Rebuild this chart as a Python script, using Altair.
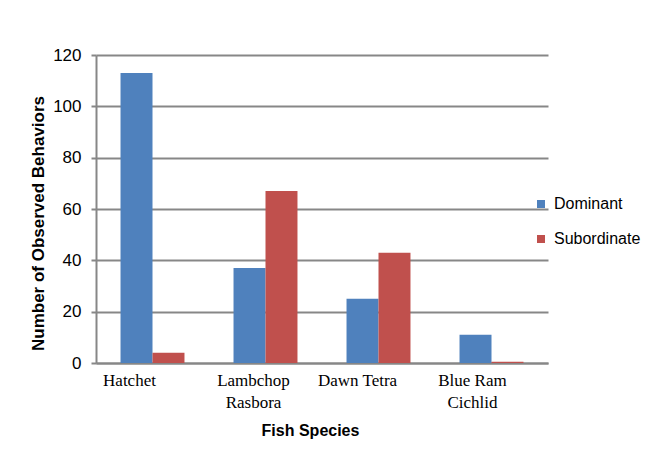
import altair as alt
import pandas as pd

species = ["Hatchet", "Lambchop Rasbora", "Dawn Tetra", "Blue Ram Cichlid"]
label_lines = [["Hatchet"], ["Lambchop", "Rasbora"], ["Dawn Tetra"], ["Blue Ram", "Cichlid"]]
label_shift = [-23, -12, -21, -19]
series = ["Dominant", "Subordinate"]
dominant = [113, 37, 25, 11]
subordinate = [4, 67, 43, 0.5]
colors = ["#4F81BD", "#C0504D"]
y_ticks = [0, 20, 40, 60, 80, 100, 120]

rows = []
for i, s in enumerate(species):
    rows.append({"species": s, "group": "Dominant", "count": dominant[i]})
    rows.append({"species": s, "group": "Subordinate", "count": subordinate[i]})
df = pd.DataFrame(rows)

# label expression for multi-line category labels
expr = "datum.value"
for s, lines in zip(reversed(species), reversed(label_lines)):
    arr = "[" + ",".join("'" + l + "'" for l in lines) + "]"
    expr = f"datum.value === '{s}' ? {arr} : ({expr})"

offset_cond = {
    "condition": [{"test": f"datum.value === '{s}'", "value": d} for s, d in zip(species, label_shift)],
    "value": -18,
}

gray = "#878787"

chart = alt.Chart(df).mark_bar().encode(
    x=alt.X(
        "species:N",
        sort=species,
        scale=alt.Scale(paddingInner=0.434, paddingOuter=0.217),
        axis=alt.Axis(
            title="Fish Species",
            titleFont="Liberation Sans",
            titleFontWeight="bold",
            titleFontSize=16,
            titleColor="#000000",
            titleX=214,
            titleY=67,
            titleBaseline="middle",
            titleAlign="center",
            labelExpr=expr,
            labelFont="Liberation Serif",
            labelFontSize=17,
            labelColor="#000000",
            labelAngle=0,
            labelPadding=9,
            labelLineHeight=22,
            labelOffset=offset_cond,
            ticks=False,
            domainColor=gray,
            domainWidth=2,
            grid=False,
        ),
    ),
    xOffset=alt.XOffset("group:N", sort=series, scale=alt.Scale(paddingInner=0, paddingOuter=0)),
    y=alt.Y(
        "count:Q",
        scale=alt.Scale(domain=[0, 120], nice=False),
        axis=alt.Axis(
            title="Number of Observed Behaviors",
            titleFont="Liberation Sans",
            titleFontWeight="bold",
            titleFontSize=17,
            titleColor="#000000",
            titleX=-58,
            titleY=168,
            titleAngle=270,
            titleAlign="center",
            titleBaseline="middle",
            values=y_ticks,
            labelFont="Liberation Sans",
            labelFontSize=17,
            labelColor="#000000",
            labelPadding=10,
            tickSize=5,
            tickColor=gray,
            tickWidth=2,
            domainColor=gray,
            domainWidth=2,
            gridColor=gray,
            gridWidth=2,
        ),
    ),
    color=alt.Color(
        "group:N",
        sort=series,
        scale=alt.Scale(domain=series, range=colors),
        legend=alt.Legend(
            title=None,
            orient="none",
            legendX=437,
            legendY=141,
            symbolType="square",
            symbolSize=64,
            symbolStrokeWidth=0,
            labelFont="Liberation Sans",
            labelFontSize=16,
            labelColor="#000000",
            labelOffset=5,
            rowPadding=19,
        ),
    ),
).properties(
    width=452,
    height=308,
    autosize=alt.AutoSizeParams(type="none"),
    padding={"left": 88, "top": 47, "right": 108, "bottom": 79},
).configure(background="white", view=alt.ViewConfig(stroke=None))

chart.save("out.html", embed_options={"renderer": "svg", "actions": False})
